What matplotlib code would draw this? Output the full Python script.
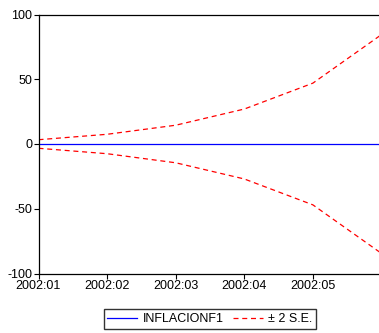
import matplotlib.pyplot as plt

plt.rcParams['font.family'] = ['Liberation Sans', 'DejaVu Sans']
plt.rcParams['axes.unicode_minus'] = False

# -------- Data --------
periods = ["2002:01", "2002:02", "2002:03", "2002:04", "2002:05", "2002:06"]
forecast = [0, 0, 0, 0, 0, 0]
upper = [3.3, 7.5, 14.5, 27.0, 47.0, 84.5]
lower = [-3.3, -7.5, -14.5, -27.0, -47.0, -84.5]

x = list(range(len(periods)))

# -------- Figure --------
W, H = 379, 333
fig = plt.figure(figsize=(W / 100, H / 100), dpi=100)
left, right, top, bottom = 38.5, 381.5, 14.5, 273.5
ax = fig.add_axes([left / W, 1 - bottom / H, (right - left) / W, (bottom - top) / H])

ax.plot(x, forecast, color="#0000ff", lw=0.9, label="INFLACIONF1")
ax.plot(x, upper, color="#ff0000", lw=0.9, ls=(0, (4, 3)), label="± 2 S.E.")
ax.plot(x, lower, color="#ff0000", lw=0.9, ls=(0, (4, 3)))

ax.set_xlim(0, len(periods) - 1)
ax.set_ylim(-100, 100)
ax.set_yticks([-100, -50, 0, 50, 100])
ax.set_xticks(x[:-1])
ax.set_xticklabels(periods[:-1])

for s in ax.spines.values():
    s.set_linewidth(0.9)
ax.tick_params(direction="out", length=3.5, width=0.8, labelsize=9, pad=1)

fig.legend(loc="center", bbox_to_anchor=(210 / W, 1 - 319 / H), ncol=2,
           fontsize=9, frameon=True, fancybox=False, edgecolor="black",
           handlelength=2.4, handletextpad=0.4, columnspacing=0.8,
           borderpad=0.3, borderaxespad=0)

plt.savefig("out.png", dpi=100)
